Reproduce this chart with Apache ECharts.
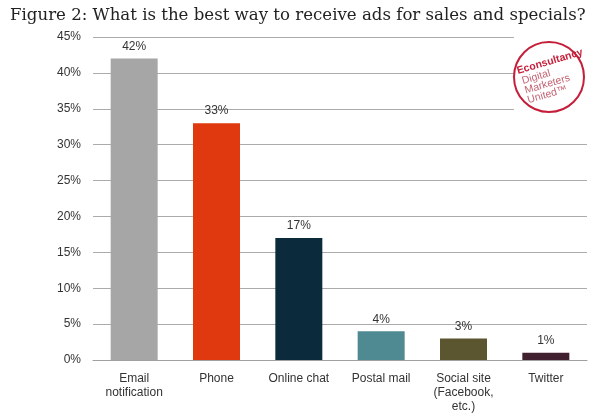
<!DOCTYPE html>
<html>
<head>
<meta charset="utf-8">
<script src="https://cdn.jsdelivr.net/npm/echarts@6/dist/echarts.min.js"></script>
<style>
  html, body { margin: 0; padding: 0; background: #fff; }
  #main { width: 600px; height: 419px; }
</style>
</head>
<body>
<div id="main"></div>
<script>
var categories = ['Email\nnotification', 'Phone', 'Online chat', 'Postal mail', 'Social site\n(Facebook,\netc.)', 'Twitter'];
var values = [42, 33, 17, 4, 3, 1];
var barColors = ['#a6a6a6', '#e0380f', '#0b2a3c', '#4f8a93', '#5b5530', '#40202f'];

var chart = echarts.init(document.getElementById('main'));

var option = {
  animation: false,
  title: {
    text: 'Figure 2: What is the best way to receive ads for sales and specials?',
    left: 5,
    top: 2,
    textStyle: { fontFamily: 'DejaVu Serif', fontWeight: 'normal', fontSize: 16.6, color: '#222' }
  },
  grid: { left: 93, right: 13, top: 37, bottom: 59 },
  xAxis: {
    type: 'category',
    data: categories,
    axisLine: { lineStyle: { color: '#a0a0a0' } },
    axisTick: { show: false },
    axisLabel: { color: '#333', fontFamily: 'Liberation Sans', fontSize: 12, lineHeight: 14, margin: 12, interval: 0 }
  },
  yAxis: {
    type: 'value',
    min: 0,
    max: 45,
    interval: 5,
    axisLine: { show: false },
    axisTick: { show: false },
    axisLabel: { formatter: '{value}%', color: '#333', fontFamily: 'Liberation Sans', fontSize: 12, margin: 12 },
    splitLine: { lineStyle: { color: '#ababab' } }
  },
  series: [{
    type: 'bar',
    barWidth: 47,
    data: values.map(function (v, i) {
      return { value: v, itemStyle: { color: barColors[i] } };
    }),
    label: {
      show: true,
      position: 'top',
      formatter: '{c}%',
      color: '#333',
      fontFamily: 'Liberation Sans',
      fontSize: 12,
      distance: 6
    }
  }],
  graphic: [{
    type: 'group',
    left: 513,
    top: 30,
    z: 100,
    children: [
      { type: 'rect', z: 100, shape: { x: 0, y: 0, width: 87, height: 86 }, style: { fill: '#fff' } },
      { type: 'circle', z: 101, shape: { cx: 35, cy: 47, r: 35 }, style: { fill: '#fff', stroke: '#c41e3a', lineWidth: 2 } },
      {
        type: 'group',
        x: 35, y: 47,
        rotation: Math.PI / 11,
        children: [
          { type: 'text', z: 102, style: { text: 'Econsultancy', x: -29, y: -20, fill: '#c41e3a', font: 'bold 10.5px Liberation Sans' } },
          { type: 'text', z: 102, style: { text: 'Digital', x: -27, y: -9, fill: '#c46474', font: '10.5px Liberation Sans' } },
          { type: 'text', z: 102, style: { text: 'Marketers', x: -27, y: 1, fill: '#c46474', font: '10.5px Liberation Sans' } },
          { type: 'text', z: 102, style: { text: 'United\u2122', x: -27, y: 11, fill: '#c46474', font: '10.5px Liberation Sans' } }
        ]
      }
    ]
  }]
};

chart.setOption(option);
</script>
</body>
</html>
